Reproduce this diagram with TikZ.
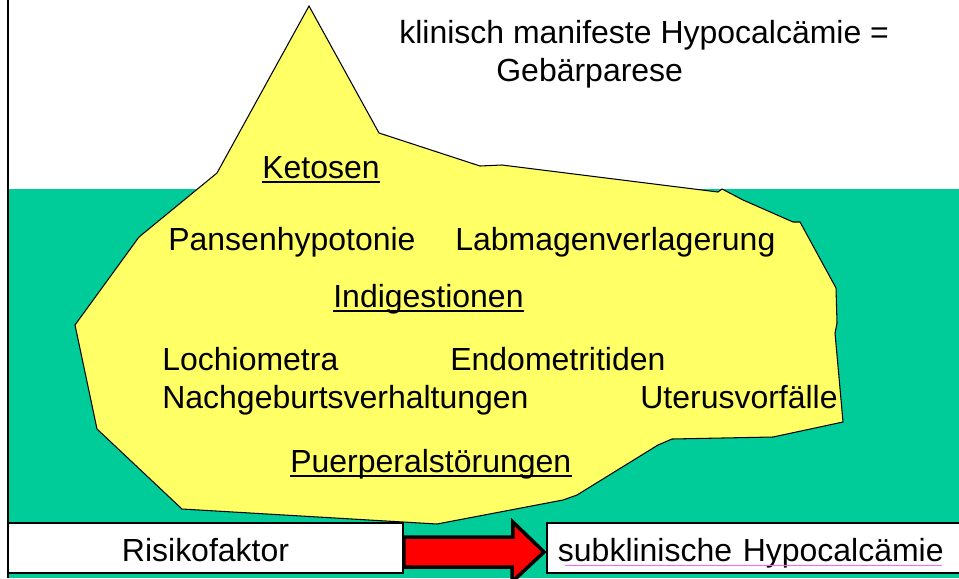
\documentclass[tikz,border=0pt]{standalone}
\usepackage{fontspec}
\setmainfont{Liberation Sans}

\definecolor{sea}{RGB}{0,204,153}
\definecolor{ice}{RGB}{255,255,102}
\definecolor{squiggle}{RGB}{255,102,255}

\begin{document}
\begin{tikzpicture}[x=0.02cm, y=-0.02cm,
  font=\fontsize{18.2}{22}\selectfont,
  lbl/.style={inner sep=0pt, anchor=base west},
  uline/.style={line width=1.1pt},
  box/.style={draw, line width=1.1pt, fill=white, minimum height=1cm, text height=0.52cm, text depth=0pt, inner sep=0pt},
  fatarrow/.style={draw, fill=red, line width=2pt, line join=miter}]

\useasboundingbox (0,0) rectangle (959,578);

% Water below the surface, left frame line
\fill[sea] (8,189) rectangle (959,578);
\draw[line width=1.1pt] (8,0) -- (8,578);

% Iceberg outline
\draw[fill=ice, line width=0.6pt] (309,6) -- (379,133) -- (480,166) -- (502,165) -- (718,192) -- (722,189)
  -- (743,200) -- (793,222) -- (800,222) -- (836,288) -- (837,323) -- (835,333) -- (843,422)
  -- (773,437) -- (672,439) -- (658,445) -- (577,495) -- (563,500) -- (437,524) -- (182,509)
  -- (97,429) -- (75,325) -- (139,237) -- (217,173) -- cycle;

% Tip above the water
\node[lbl] (klin) at (399,43) {klinisch manifeste Hypocalcämie =};
\node[lbl] (geb) at (496,81) {Gebärparese};

% Disorders below the surface
\node[lbl] (ket) at (262,178) {Ketosen};
\node[lbl] (pans) at (168,250) {Pansenhypotonie};
\node[lbl] (lab) at (455,250) {Labmagenverlagerung};
\node[lbl] (ind) at (333,307) {Indigestionen};
\node[lbl] (loch) at (162,370) {Lochiometra};
\node[lbl] (endo) at (450,370) {Endometritiden};
\node[lbl] (nach) at (162,408) {Nachgeburtsverhaltungen};
\node[lbl] (uter) at (640,408) {Uterusvorfälle};
\node[lbl] (puer) at (290,472) {Puerperalstörungen};

\foreach \n in {ket, ind, puer}
  \draw[uline] ([yshift=-2.3pt]\n.base west) -- ([yshift=-2.3pt]\n.base east);

% Bottom row
\node[box, minimum width=7.9cm] (risk) at (205.5,548) {Risikofaktor};
\node[box, anchor=west, text width=7.96cm, inner xsep=0.22cm, align=left] (sub) at (546,548) {subklinische Hypocalcämie};
\draw[squiggle, line width=0.5pt] ([shift={(19,17)}]sub.west) -- ([shift={(396,17)}]sub.west);

\draw[fatarrow] ([shift={(0,-11)}]risk.east) -- ++(109,0) -- ++(0,-15) -- ([shift={(-2,4)}]sub.west)
  -- ++(-32,30) -- ++(0,-15) -- ([shift={(0,19)}]risk.east) -- cycle;

\end{tikzpicture}
\end{document}
